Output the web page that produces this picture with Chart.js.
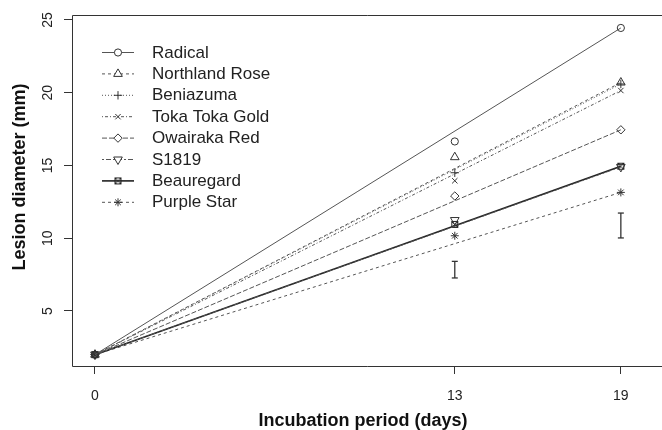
<!DOCTYPE html>
<html lang="en">
  <head>
    <meta charset="UTF-8" />
    <script src="https://cdn.jsdelivr.net/npm/chart.js@4.4.1/dist/chart.umd.min.js"></script>
    <title>Lesion diameter</title>
    <style>
      body { margin: 0; background: #fff; }
    </style>
  </head>
  <body>
    <canvas id="myChart" width="662" height="430"></canvas>
    <script>
      // data
      const days = [0, 13, 19];
      const cultivars = ["Radical", "Northland Rose", "Beniazuma", "Toka Toka Gold",
        "Owairaka Red", "S1819", "Beauregard", "Purple Star"];
      const radical = [2, 16.65, 24.45];
      const northlandRose = [2, 15.57, 20.7];
      const beniazuma = [2, 14.5, 20.6];
      const tokaTokaGold = [2, 13.95, 20.15];
      const owairakaRed = [2, 12.9, 17.45];
      const s1819 = [2, 11.25, 14.9];
      const beauregard = [2, 10.95, 14.95];
      const purpleStar = [2, 10.17, 13.15];
      const errDays = [13, 19];
      const errLow = [7.27, 10.02];
      const errHigh = [8.41, 11.73];
      const xTicks = [0, 13, 19];
      const yTicks = [5, 10, 15, 20, 25];

      const series = [radical, northlandRose, beniazuma, tokaTokaGold, owairakaRed, s1819, beauregard, purpleStar];

      // square with a cross (R pch 7)
      const boxX = document.createElement("canvas");
      boxX.width = 9; boxX.height = 9;
      (function () {
        const c = boxX.getContext("2d");
        c.strokeStyle = "#222";
        c.lineWidth = 1;
        c.strokeRect(1.5, 1.5, 6, 6);
        c.beginPath();
        c.moveTo(1.5, 1.5); c.lineTo(7.5, 7.5);
        c.moveTo(7.5, 1.5); c.lineTo(1.5, 7.5);
        c.stroke();
      })();

      const symbols = ["circle", "triangle", "cross", "crossRot", "rectRot", "triangle", boxX, "star"];
      const rotations = [0, 0, 0, 0, 0, 180, 0, 0];
      const radii = [3.6, 5, 4.2, 3.8, 4.2, 5, 4, 4];
      const dashes = [[], [3, 3], [1, 2], [1, 2, 3, 2], [5, 2], [2, 2, 5, 2], [], [3, 3]];
      const lineColors = ["#555", "#555", "#555", "#555", "#555", "#555", "#222", "#555"];
      const lineWidths = [1, 1, 1, 1, 1, 1, 1.6, 1];

      const datasets = [];
      series.forEach((vals, i) => {
        const common = {
          pointStyle: symbols[i],
          rotation: rotations[i],
          pointRadius: radii[i],
          pointBorderColor: "#333",
          pointBackgroundColor: "rgba(0,0,0,0)",
          pointBorderWidth: 1,
        };
        datasets.push(Object.assign({
          label: cultivars[i],
          data: [{ x: days[0], y: vals[0] }, { x: days[2], y: vals[2] }],
          showLine: true,
          borderColor: lineColors[i],
          borderWidth: lineWidths[i],
          borderDash: dashes[i],
        }, common));
        datasets.push(Object.assign({
          label: cultivars[i] + " d13",
          data: [{ x: days[1], y: vals[1] }],
          showLine: false,
        }, common));
      });
      errDays.forEach((d, i) => {
        datasets.push({
          label: "err" + d,
          data: [{ x: d, y: errLow[i] }, { x: d, y: errHigh[i] }],
          showLine: true,
          borderColor: "#333",
          borderWidth: 1.3,
          pointStyle: "line",
          pointRadius: 3,
          pointBorderColor: "#333",
          pointBorderWidth: 1.3,
        });
      });

      const framePlugin = {
        id: "frame",
        afterDraw(chart) {
          const ctx = chart.ctx;
          const a = chart.chartArea;
          ctx.save();
          ctx.strokeStyle = "#333";
          ctx.lineWidth = 1;
          ctx.beginPath();
          ctx.moveTo(662, a.top + 0.5);
          ctx.lineTo(a.left + 0.5, a.top + 0.5);
          ctx.lineTo(a.left + 0.5, a.bottom + 0.5);
          ctx.lineTo(662, a.bottom + 0.5);
          ctx.stroke();

          // y tick labels, rotated like R
          const ys = chart.scales.y;
          ctx.fillStyle = "#222";
          ctx.font = "14px 'Liberation Sans', Arial, sans-serif";
          ctx.textAlign = "center";
          ctx.textBaseline = "middle";
          yTicks.forEach((v) => {
            ctx.save();
            ctx.translate(48, ys.getPixelForValue(v));
            ctx.rotate(-Math.PI / 2);
            ctx.fillText(String(v), 0, 0);
            ctx.restore();
          });

          // axis titles
          ctx.fillStyle = "#111";
          ctx.font = "bold 18px 'Liberation Sans', Arial, sans-serif";
          ctx.textBaseline = "alphabetic";
          ctx.save();
          ctx.translate(25, 177);
          ctx.rotate(-Math.PI / 2);
          ctx.fillText("Lesion diameter (mm)", 0, 0);
          ctx.restore();
          ctx.fillText("Incubation period (days)", 363, 426);

          // legend
          ctx.font = "17px 'Liberation Sans', Arial, sans-serif";
          ctx.textAlign = "left";
          ctx.textBaseline = "middle";
          cultivars.forEach((name, i) => {
            const y = 52 + i * 21.4;
            ctx.save();
            ctx.strokeStyle = lineColors[i];
            ctx.lineWidth = lineWidths[i];
            ctx.setLineDash(dashes[i]);
            ctx.beginPath();
            ctx.moveTo(102, y + 0.5);
            ctx.lineTo(134, y + 0.5);
            ctx.stroke();
            ctx.restore();
            ctx.save();
            ctx.strokeStyle = "#333";
            ctx.fillStyle = "#fff";
            ctx.lineWidth = 1;
            Chart.helpers.drawPoint(ctx, {
              pointStyle: symbols[i],
              rotation: rotations[i],
              radius: radii[i],
              borderWidth: 1,
            }, 118, y + 0.5);
            ctx.restore();
            ctx.fillStyle = "#222";
            ctx.fillText(name, 152, y + 1);
          });
          ctx.restore();
        },
      };

      const ctx = document.getElementById("myChart").getContext("2d");
      const myChart = new Chart(ctx, {
        type: "scatter",
        data: { datasets: datasets },
        plugins: [framePlugin],
        options: {
          responsive: false,
          animation: false,
          layout: { padding: { top: 15, left: 0, right: 0, bottom: 0 } },
          plugins: {
            legend: { display: false },
            tooltip: { enabled: false },
          },
          scales: {
            x: {
              type: "linear",
              min: -0.83,
              max: 20.27,
              afterBuildTicks: (scale) => {
                scale.ticks = xTicks.map((v) => ({ value: v }));
              },
              afterFit: (scale) => {
                scale.height = 64;
              },
              grid: { drawOnChartArea: false, drawTicks: true, tickLength: 8, color: "#333" },
              border: { display: false },
              ticks: {
                color: "#222",
                padding: 14,
                font: { family: "'Liberation Sans', Arial, sans-serif", size: 14 },
                callback: (v) => String(v),
                maxRotation: 0,
              },
            },
            y: {
              type: "linear",
              min: 1.22,
              max: 25.34,
              afterBuildTicks: (scale) => {
                scale.ticks = yTicks.map((v) => ({ value: v }));
              },
              afterFit: (scale) => {
                scale.width = 72;
              },
              grid: { drawOnChartArea: false, drawTicks: true, tickLength: 8, color: "#333" },
              border: { display: false },
              ticks: { display: false },
            },
          },
        },
      });
    </script>
  </body>
</html>
